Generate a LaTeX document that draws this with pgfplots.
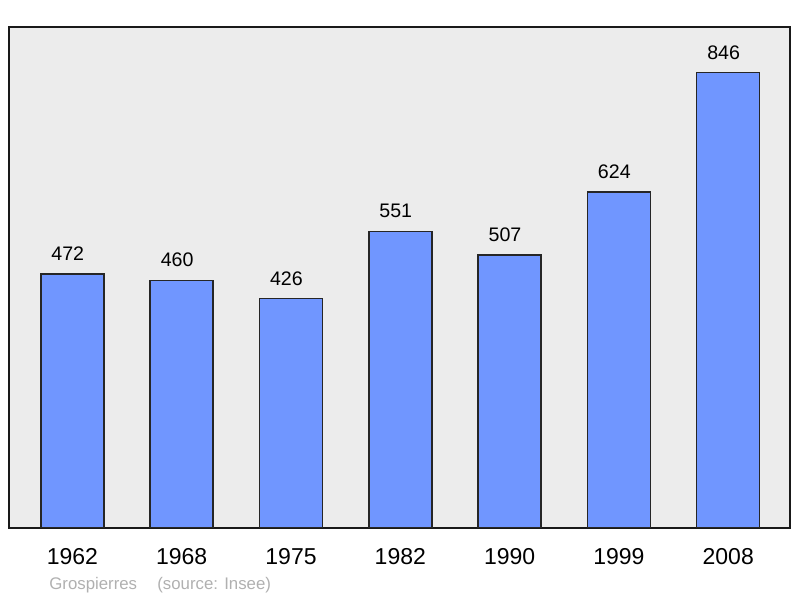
\documentclass[border=0pt]{standalone}
\usepackage{fontspec}
\setmainfont{Liberation Sans}
\usepackage{pgfplots}
\pgfplotsset{compat=1.18}
\definecolor{barblue}{RGB}{112,150,255}
\definecolor{panelgray}{RGB}{236,236,236}
\definecolor{footgray}{RGB}{176,176,176}
\begin{document}
\begin{tikzpicture}
\useasboundingbox (0,0) rectangle (400pt,299pt);
\begin{axis}[
  at={(4.5pt,35pt)},anchor=south west,
  scale only axis,width=390.5pt,height=250.5pt,
  ybar,bar width=31.5pt,
  xmin=-0.58,xmax=6.565,ymin=0,ymax=931,
  xtick=data,xticklabels={1962,1968,1975,1982,1990,1999,2008},
  ytick=\empty,major tick length=0pt,
  axis background/.style={fill=panelgray},
  axis line style={line width=1pt,black!90},
  xticklabel style={font=\fontsize{11.5}{13}\selectfont,anchor=north,yshift=-6.5pt},
  nodes near coords,
  nodes near coords style={font=\fontsize{9.8}{12}\selectfont,anchor=south,yshift=3pt,xshift=-2.3pt},
  /pgf/number format/assume math mode=true,
  /pgf/number format/1000 sep={},
]
\addplot[fill=barblue,draw=black!85,line width=0.75pt] coordinates {
(0,472) (1,460) (2,426) (3,551) (4,507) (5,624) (6,846)};
\end{axis}
\node[anchor=west,inner sep=0pt,text=footgray,font=\fontsize{8.4}{10}\selectfont] at (24.5pt,6.5pt) {Grospierres};
\node[anchor=west,inner sep=0pt,text=footgray,font=\fontsize{8.4}{10}\selectfont] at (78.5pt,6.5pt) {(source: Insee)};
\end{tikzpicture}
\end{document}
